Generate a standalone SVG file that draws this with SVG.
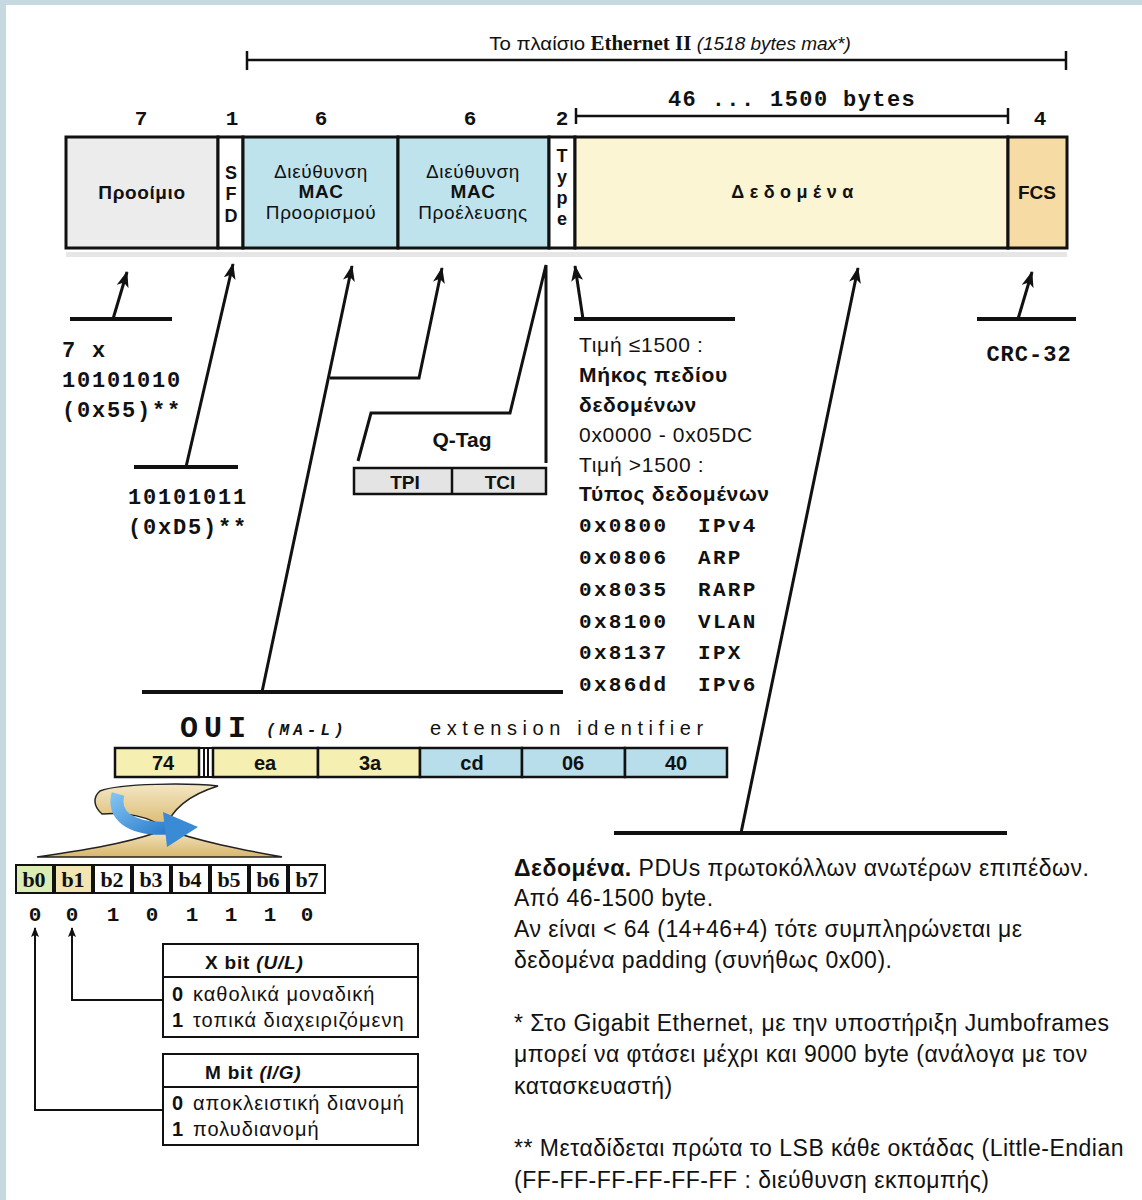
<svg xmlns="http://www.w3.org/2000/svg" width="1142" height="1200" viewBox="0 0 1142 1200">
<defs>
<marker id="ah" viewBox="0 0 16 12" refX="15" refY="6" markerWidth="16" markerHeight="12" markerUnits="userSpaceOnUse" orient="auto">
<path d="M0,0 L16,6 L0,12 L4,6 Z" fill="#111"/>
</marker>
<marker id="ahs" viewBox="0 0 10 8" refX="9" refY="4" markerWidth="10" markerHeight="8" markerUnits="userSpaceOnUse" orient="auto">
<path d="M0,0 L10,4 L0,8 L2,4 Z" fill="#111"/>
</marker>
<linearGradient id="paper" x1="0" y1="0" x2="0" y2="1">
<stop offset="0" stop-color="#f3e7c4"/>
<stop offset="1" stop-color="#d9b66c"/>
</linearGradient>
<linearGradient id="blue" x1="0" y1="0" x2="1" y2="1">
<stop offset="0" stop-color="#7fc2f0"/>
<stop offset="1" stop-color="#2f7fcf"/>
</linearGradient>
</defs>
<style>
.sans{font-family:"Liberation Sans",Arial,sans-serif;fill:#111}
.b{font-weight:bold}
.mono{font-family:"Liberation Mono","Courier New",monospace;font-weight:bold;fill:#111}
.serif{font-family:"Liberation Serif","Times New Roman",serif;fill:#111}
.ln{stroke:#111;fill:none}
.cell{stroke:#111;stroke-width:3}
.mid{text-anchor:middle}
.lbl{font-size:19px;letter-spacing:0.6px}
.box{font-size:20px;letter-spacing:1px}
</style>
<rect x="0" y="0" width="1142" height="1200" fill="#ffffff"/>
<rect x="0" y="0" width="1142" height="5" fill="#c6d9e0"/>
<rect x="0" y="0" width="6" height="1200" fill="#c6d9e0"/>

<g id="title">
<text x="670" y="50" class="sans mid" font-size="19"><tspan textLength="96" lengthAdjust="spacingAndGlyphs">Το πλαίσιο</tspan> <tspan class="serif b" font-size="21">Ethernet II</tspan> <tspan font-style="italic">(1518 bytes max*)</tspan></text>
<path class="ln" stroke-width="2.5" d="M247,60 H1066 M247,51 V70 M1066,51 V70"/>
</g>

<g id="sizes">
<text x="141" y="125" class="mono mid" font-size="21">7</text>
<text x="232" y="125" class="mono mid" font-size="21">1</text>
<text x="321" y="125" class="mono mid" font-size="21">6</text>
<text x="470" y="125" class="mono mid" font-size="21">6</text>
<text x="562" y="125" class="mono mid" font-size="21">2</text>
<text x="1040" y="125" class="mono mid" font-size="21">4</text>
<text x="792" y="106" class="mono mid" font-size="22" letter-spacing="1.4">46 ... 1500 bytes</text>
<path class="ln" stroke-width="2.5" d="M576,116 H1008 M576,108 V124 M1008,108 V124"/>
</g>

<g id="frame">
<rect x="66" y="252" width="1001" height="5" fill="#e6e6e6"/>
<g id="preamble"><rect class="cell" x="66" y="137" width="152" height="111" fill="#ececec"/>
<text x="142" y="199" class="sans b mid lbl">Προοίμιο</text></g>
<g id="sfd"><rect class="cell" x="218" y="137" width="25" height="111" fill="#ffffff"/>
<text class="sans b mid" font-size="18"><tspan x="231" y="179">S</tspan><tspan x="231" y="200">F</tspan><tspan x="231" y="222">D</tspan></text></g>
<g id="dst"><rect class="cell" x="243" y="137" width="155" height="111" fill="#bfe3ec"/>
<text class="sans mid lbl"><tspan x="321" y="178">Διεύθυνση</tspan><tspan x="321" y="198" class="b">MAC</tspan><tspan x="321" y="219">Προορισμού</tspan></text></g>
<g id="src"><rect class="cell" x="398" y="137" width="151" height="111" fill="#bfe3ec"/>
<text class="sans mid lbl"><tspan x="473" y="178">Διεύθυνση</tspan><tspan x="473" y="198" class="b">MAC</tspan><tspan x="473" y="219">Προέλευσης</tspan></text></g>
<g id="type"><rect class="cell" x="549" y="137" width="26" height="111" fill="#ffffff"/>
<text class="sans b mid" font-size="18"><tspan x="562" y="162">T</tspan><tspan x="562" y="183">y</tspan><tspan x="562" y="204">p</tspan><tspan x="562" y="225">e</tspan></text></g>
<g id="data"><rect class="cell" x="575" y="137" width="433" height="111" fill="#fbf5d4"/>
<text x="795" y="198" class="sans b mid" font-size="18" letter-spacing="5.5">Δεδομένα</text></g>
<g id="fcs"><rect class="cell" x="1008" y="137" width="59" height="111" fill="#f6dba4"/>
<text x="1037" y="199" class="sans b mid" font-size="19">FCS</text></g>
</g>

<g id="connectors">
<path class="ln" stroke-width="4" d="M70,319 H172"/>
<path class="ln" stroke-width="3" d="M113,319 L127,272" marker-end="url(#ah)"/>
<path class="ln" stroke-width="4" d="M134,467 H238"/>
<path class="ln" stroke-width="3" d="M186,467 L233,264" marker-end="url(#ah)"/>
<path class="ln" stroke-width="4" d="M142,692 H563"/>
<path class="ln" stroke-width="3" d="M262,692 L352,266" marker-end="url(#ah)"/>
<path class="ln" stroke-width="3" d="M330,378 H419 L442,268" marker-end="url(#ah)"/>
<path class="ln" stroke-width="3" d="M358,461 L371,413 H510 L546,265 V463"/>
<path class="ln" stroke-width="4" d="M574,319 H735"/>
<path class="ln" stroke-width="3" d="M583,319 L575,266" marker-end="url(#ah)"/>
<path class="ln" stroke-width="4" d="M614,833 H1007"/>
<path class="ln" stroke-width="3" d="M741,833 L858,268" marker-end="url(#ah)"/>
<path class="ln" stroke-width="4" d="M977,319 H1076"/>
<path class="ln" stroke-width="3" d="M1018,319 L1032,272" marker-end="url(#ah)"/>
<path class="ln" stroke-width="2" d="M163,1110 H35 V928" marker-end="url(#ahs)"/>
<path class="ln" stroke-width="2" d="M163,1000 H72 V928" marker-end="url(#ahs)"/>
</g>

<g id="preamble-note">
<text class="mono" font-size="22" letter-spacing="1.8"><tspan x="62" y="357">7 x</tspan><tspan x="62" y="387">10101010</tspan><tspan x="62" y="417">(0x55)**</tspan></text>
</g>
<g id="sfd-note">
<text class="mono" font-size="22" letter-spacing="1.8"><tspan x="128" y="504">10101011</tspan><tspan x="128" y="534">(0xD5)**</tspan></text>
</g>

<g id="qtag">
<text x="462" y="447" class="sans b mid" font-size="21">Q-Tag</text>
<rect x="354" y="468" width="192" height="26" fill="#e4e4e4" stroke="#111" stroke-width="2.5"/>
<line x1="452" y1="468" x2="452" y2="494" stroke="#111" stroke-width="2.5"/>
<text x="405" y="489" class="sans b mid" font-size="19">TPI</text>
<text x="500" y="489" class="sans b mid" font-size="19">TCI</text>
</g>

<g id="type-note">
<text class="sans" font-size="21" letter-spacing="0.7">
<tspan x="579" y="352">Τιμή ≤1500 :</tspan>
<tspan x="579" y="382" class="b">Μήκος πεδίου</tspan>
<tspan x="579" y="412" class="b">δεδομένων</tspan>
<tspan x="579" y="442">0x0000 - 0x05DC</tspan>
<tspan x="579" y="472">Τιμή &gt;1500 :</tspan>
<tspan x="579" y="501" class="b">Τύπος δεδομένων</tspan>
</text>
<text class="mono" font-size="21" letter-spacing="2.3">
<tspan x="579" y="532">0x0800</tspan><tspan x="698" y="532">IPv4</tspan>
<tspan x="579" y="564">0x0806</tspan><tspan x="698" y="564">ARP</tspan>
<tspan x="579" y="596">0x8035</tspan><tspan x="698" y="596">RARP</tspan>
<tspan x="579" y="628">0x8100</tspan><tspan x="698" y="628">VLAN</tspan>
<tspan x="579" y="659">0x8137</tspan><tspan x="698" y="659">IPX</tspan>
<tspan x="579" y="691">0x86dd</tspan><tspan x="698" y="691">IPv6</tspan>
</text>
</g>

<g id="crc">
<text x="1029" y="361" class="mono mid" font-size="22" letter-spacing="1">CRC-32</text>
</g>

<g id="oui">
<text x="180" y="737" class="mono" font-size="30" letter-spacing="6">OUI</text>
<text x="266" y="735" class="mono" font-size="16" font-style="italic" letter-spacing="4">(MA-L)</text>
<text x="430" y="735" class="sans" font-size="20" letter-spacing="5.6">extension identifier</text>
<g stroke="#111" stroke-width="2.5">
<rect x="115" y="748" width="84" height="29" fill="#f5efb2"/>
<rect x="213" y="748" width="105" height="29" fill="#f5efb2"/>
<rect x="318" y="748" width="102" height="29" fill="#f5efb2"/>
<rect x="420" y="748" width="102" height="29" fill="#b7deea"/>
<rect x="522" y="748" width="103" height="29" fill="#b7deea"/>
<rect x="625" y="748" width="102" height="29" fill="#b7deea"/>
<path d="M199,748 H213 M199,777 H213 M204,748 V777 M208,748 V777" fill="none" stroke-width="2"/>
</g>
<g class="sans b mid" font-size="20">
<text x="163" y="770">74</text><text x="265" y="770">ea</text><text x="370" y="770">3a</text>
<text x="472" y="770">cd</text><text x="573" y="770">06</text><text x="676" y="770">40</text>
</g>
</g>

<g id="flip">
<path d="M37,857 C100,848 140,840 165,829 C200,842 250,851 282,857 Z" fill="url(#paper)" stroke="#222" stroke-width="1.5"/>
<path d="M100,791 C120,783 190,783 218,786 C192,794 172,808 165,829 C150,816 125,812 102,814 C93,806 93,797 100,791 Z" fill="url(#paper)" stroke="#222" stroke-width="1.5"/>
<path d="M118,794 C112,815 130,830 168,828" fill="none" stroke="url(#blue)" stroke-width="13"/>
<path d="M163,812 L198,827 L167,847 Z" fill="#3a8ad5"/>
</g>

<g id="bits">
<g stroke="#111" stroke-width="2">
<rect x="16" y="865" width="37" height="28" fill="#d9edb4"/>
<rect x="55" y="865" width="37" height="28" fill="#f3e4b4"/>
<rect x="94" y="865" width="37" height="28" fill="#fff"/>
<rect x="133" y="865" width="37" height="28" fill="#fff"/>
<rect x="172" y="865" width="37" height="28" fill="#fff"/>
<rect x="211" y="865" width="37" height="28" fill="#fff"/>
<rect x="250" y="865" width="37" height="28" fill="#fff"/>
<rect x="289" y="865" width="36" height="28" fill="#fff"/>
</g>
<g class="serif b mid" font-size="22">
<text x="34" y="887">b0</text><text x="73" y="887">b1</text><text x="112" y="887">b2</text><text x="151" y="887">b3</text>
<text x="190" y="887">b4</text><text x="229" y="887">b5</text><text x="268" y="887">b6</text><text x="307" y="887">b7</text>
</g>
<g class="mono mid" font-size="21">
<text x="35" y="921">0</text><text x="72" y="921">0</text><text x="113" y="921">1</text><text x="152" y="921">0</text>
<text x="192" y="921">1</text><text x="231" y="921">1</text><text x="270" y="921">1</text><text x="307" y="921">0</text>
</g>
</g>

<g id="xbit">
<rect x="163" y="944" width="255" height="93" fill="#fff" stroke="#111" stroke-width="2"/>
<line x1="163" y1="977" x2="418" y2="977" stroke="#111" stroke-width="2"/>
<text x="205" y="969" class="sans b" font-size="19" letter-spacing="0.8">X bit <tspan font-style="italic">(U/L)</tspan></text>
<text class="sans box"><tspan x="172" y="1001" class="b">0</tspan><tspan x="193" y="1001">καθολικά μοναδική</tspan><tspan x="172" y="1027" class="b">1</tspan><tspan x="193" y="1027">τοπικά διαχειριζόμενη</tspan></text>
</g>
<g id="mbit">
<rect x="163" y="1054" width="255" height="91" fill="#fff" stroke="#111" stroke-width="2"/>
<line x1="163" y1="1087" x2="418" y2="1087" stroke="#111" stroke-width="2"/>
<text x="205" y="1079" class="sans b" font-size="19" letter-spacing="0.8">M bit <tspan font-style="italic">(I/G)</tspan></text>
<text class="sans box"><tspan x="172" y="1110" class="b">0</tspan><tspan x="193" y="1110">αποκλειστική διανομή</tspan><tspan x="172" y="1136" class="b">1</tspan><tspan x="193" y="1136">πολυδιανομή</tspan></text>
</g>

<g id="notes" class="sans" font-size="23" letter-spacing="0.5">
<text x="514" y="876"><tspan class="b">Δεδομένα.</tspan> PDUs πρωτοκόλλων ανωτέρων επιπέδων.</text>
<text x="514" y="906">Από 46-1500 byte.</text>
<text x="514" y="937">Αν είναι &lt; 64 (14+46+4) τότε συμπληρώνεται με</text>
<text x="514" y="968">δεδομένα padding (συνήθως 0x00).</text>
<text x="514" y="1031">* Στο Gigabit Ethernet, με την υποστήριξη Jumboframes</text>
<text x="514" y="1062">μπορεί να φτάσει μέχρι και 9000 byte (ανάλογα με τον</text>
<text x="514" y="1094">κατασκευαστή)</text>
<text x="514" y="1156">** Μεταδίδεται πρώτα το LSB κάθε οκτάδας (Little-Endian</text>
<text x="514" y="1188">(FF-FF-FF-FF-FF-FF : διεύθυνση εκπομπής)</text>
</g>
</svg>
